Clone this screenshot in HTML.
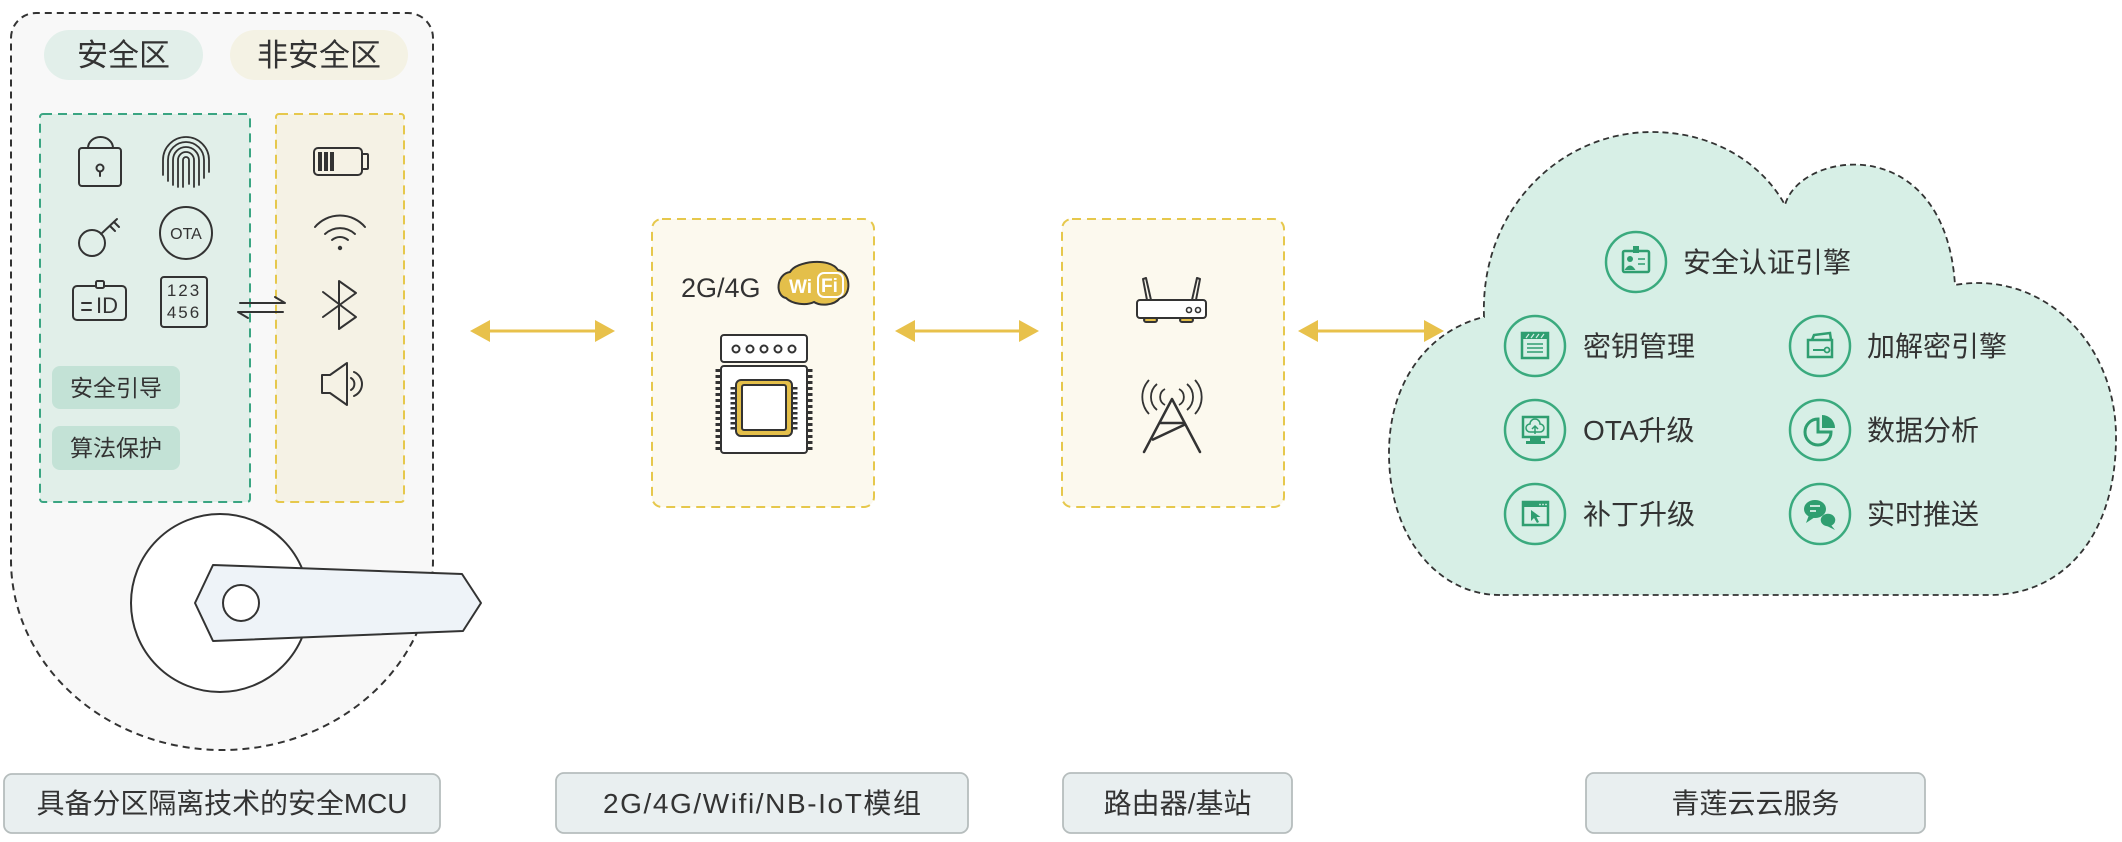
<!DOCTYPE html>
<html><head><meta charset="utf-8">
<style>
html,body{margin:0;padding:0;background:#fff;}
svg{display:block;}
text{font-family:"Liberation Sans","Noto Sans CJK SC",sans-serif;fill:#333;}
</style></head><body>
<svg width="2122" height="842" viewBox="0 0 2122 842" xmlns="http://www.w3.org/2000/svg">
<!-- ============ MCU outer shape ============ -->
<path d="M11,38 A25,25 0 0 1 36,13 L408,13 A25,25 0 0 1 433,38 L433,560 A211,190 0 0 1 11,560 Z" fill="#f8f8f8" stroke="#333" stroke-width="2" stroke-dasharray="7 5"/>

<!-- zone pills -->
<rect x="44" y="30" width="159" height="50" rx="25" fill="#e2efea"/>
<text x="123.5" y="66" font-size="31" text-anchor="middle">安全区</text>
<rect x="230" y="30" width="178" height="50" rx="25" fill="#f4f2e4"/>
<text x="319" y="66" font-size="31" text-anchor="middle">非安全区</text>

<!-- secure zone box -->
<rect x="40" y="114" width="210" height="388" rx="3" fill="#e1efe9" stroke="#3aa582" stroke-width="2" stroke-dasharray="9 6"/>
<!-- non secure box -->
<rect x="276" y="114" width="128" height="388" rx="3" fill="#f5f2e5" stroke="#e6c84c" stroke-width="2" stroke-dasharray="9 6"/>

<g fill="none" stroke="#333" stroke-width="2" stroke-linecap="round" stroke-linejoin="round">
  <!-- lock -->
  <rect x="79" y="148" width="42" height="38" rx="3"/>
  <path d="M88,148 A12.5,11 0 0 1 113,148"/>
  <circle cx="100" cy="168" r="3.5"/>
  <line x1="100" y1="171.5" x2="100" y2="176"/>
  <!-- fingerprint -->
  <path d="M163,175 V160 A23,23 0 0 1 209,160 V172" stroke-width="1.8"/>
  <path d="M168,181 V160 A18,18 0 0 1 204,160 V178" stroke-width="1.8"/>
  <path d="M173,185 V160 A13,13 0 0 1 199,160 V185" stroke-width="1.8"/>
  <path d="M178,187 V160 A8,8 0 0 1 194,160 V187" stroke-width="1.8"/>
  <path d="M183,187 V160 A3,3 0 0 1 189,160 V184" stroke-width="1.8"/>
  <!-- key -->
  <circle cx="92" cy="243" r="13"/>
  <line x1="101" y1="234" x2="117" y2="219"/>
  <line x1="110" y1="226" x2="115" y2="231"/>
  <line x1="114" y1="222" x2="119" y2="227"/>
  <!-- OTA -->
  <circle cx="186" cy="233" r="26"/>
  <!-- ID card -->
  <rect x="73" y="286" width="53" height="34" rx="4"/>
  <rect x="96" y="281" width="8" height="7" rx="1.5" fill="#e1efe9"/>
  <line x1="82" y1="303" x2="91" y2="303"/>
  <line x1="82" y1="310" x2="91" y2="310"/>
  <!-- 123 box -->
  <rect x="161" y="277" width="46" height="50" rx="3"/>
  <!-- exchange arrows -->
  <path d="M240,303 H285 L275,297"/>
  <path d="M283,312 H238 L248,318"/>
  <!-- battery -->
  <rect x="314" y="148" width="48" height="27" rx="4"/>
  <rect x="362" y="154" width="6" height="15" rx="1"/>
  <!-- wifi -->
  <path d="M315,227 A33,33 0 0 1 365,227"/>
  <path d="M325,234 A22,22 0 0 1 355,234"/>
  <path d="M332,240 A12,12 0 0 1 348,240"/>
  <!-- bluetooth -->
  <path d="M323,292 L356,317 L339,329 L339,281 L356,293 L323,317"/>
  <!-- speaker -->
  <path d="M322,375 H330 L347,363 V405 L330,393 H322 Z"/>
  <path d="M351,378 A7,7 0 0 1 351,390"/>
  <path d="M354,372 A13,13 0 0 1 354,396"/>
</g>
<text x="186" y="239" font-size="16" text-anchor="middle">OTA</text>
<text x="96" y="313" font-size="22">ID</text>
<text x="184" y="296" font-size="17" text-anchor="middle" letter-spacing="2">123</text>
<text x="184" y="318" font-size="17" text-anchor="middle" letter-spacing="2">456</text>
<g fill="#333">
  <rect x="318" y="152" width="4" height="19"/>
  <rect x="324" y="152" width="4" height="19"/>
  <rect x="330" y="152" width="4" height="19"/>
  <circle cx="340" cy="248" r="2.2"/>
</g>

<!-- small pills -->
<rect x="52" y="366" width="128" height="43" rx="8" fill="#c3e2d6"/>
<text x="116" y="396" font-size="23" text-anchor="middle">安全引导</text>
<rect x="52" y="426" width="128" height="44" rx="8" fill="#c3e2d6"/>
<text x="116" y="456" font-size="23" text-anchor="middle">算法保护</text>

<!-- lock rosette + handle -->
<circle cx="220" cy="603" r="89" fill="#fff" stroke="#333" stroke-width="2"/>
<polygon points="195,603 213,565 462,574 481,603 463,631 213,641" fill="#eef3f8" stroke="#333" stroke-width="2" stroke-linejoin="round"/>
<circle cx="241" cy="603" r="18" fill="#fff" stroke="#333" stroke-width="2"/>

<!-- ============ arrows ============ -->
<g stroke="#e8c14b" stroke-width="3">
  <line x1="488" y1="331" x2="597" y2="331"/>
  <line x1="913" y1="331" x2="1021" y2="331"/>
  <line x1="1316" y1="331" x2="1426" y2="331"/>
</g>
<g fill="#e8c14b">
  <polygon points="470,331 490,320 490,342"/>
  <polygon points="615,331 595,320 595,342"/>
  <polygon points="895,331 915,320 915,342"/>
  <polygon points="1039,331 1019,320 1019,342"/>
  <polygon points="1298,331 1318,320 1318,342"/>
  <polygon points="1444,331 1424,320 1424,342"/>
</g>

<!-- ============ module box ============ -->
<rect x="652" y="219" width="222" height="288" rx="10" fill="#fcf9ee" stroke="#e6c84c" stroke-width="2" stroke-dasharray="9 6"/>
<text x="681" y="297" font-size="27">2G/4G</text>
<!-- wifi logo -->
<path d="M786,298 C775,296 776,274 790,272 C796,261 830,257 838,270 C851,272 852,296 840,298 C834,306 820,306 814,302 C806,306 792,304 786,298 Z" fill="#e4bf4a" stroke="#333" stroke-width="2"/>
<text x="789" y="293" font-size="19" font-weight="bold" style="fill:#fff">Wi</text>
<rect x="818" y="273" width="25" height="24" rx="6" fill="#e4bf4a" stroke="#fff" stroke-width="2"/>
<text x="821" y="292" font-size="19" font-weight="bold" style="fill:#fff">Fi</text>
<!-- chip -->
<g stroke="#333" stroke-width="2">
  <rect x="721" y="335" width="86" height="27" rx="3" fill="#fff"/>
  <circle cx="736" cy="349" r="3.5" fill="none"/>
  <circle cx="750" cy="349" r="3.5" fill="none"/>
  <circle cx="764" cy="349" r="3.5" fill="none"/>
  <circle cx="778" cy="349" r="3.5" fill="none"/>
  <circle cx="792" cy="349" r="3.5" fill="none"/>
  <line x1="718" y1="369" x2="718" y2="451" stroke-width="5" stroke-dasharray="3 3"/>
  <line x1="810" y1="369" x2="810" y2="451" stroke-width="5" stroke-dasharray="3 3"/>
  <rect x="721" y="366" width="86" height="87" rx="3" fill="#fff"/>
  <line x1="733" y1="387" x2="733" y2="431" stroke-width="5" stroke-dasharray="2.5 2.5"/>
  <line x1="795" y1="387" x2="795" y2="431" stroke-width="5" stroke-dasharray="2.5 2.5"/>
  <rect x="736" y="380" width="56" height="56" rx="5" fill="#e4bf4a"/>
  <rect x="742" y="385" width="44" height="45" rx="2" fill="#fff"/>
</g>

<!-- ============ router box ============ -->
<rect x="1062" y="219" width="222" height="288" rx="10" fill="#fcf9ee" stroke="#e6c84c" stroke-width="2" stroke-dasharray="9 6"/>
<g stroke="#333" stroke-width="2" fill="none" stroke-linejoin="round">
  <path d="M1143,279 L1146,278 L1151,300 L1147,300 Z"/>
  <path d="M1200,279 L1197,278 L1192,300 L1196,300 Z"/>
  <rect x="1144" y="318" width="13" height="4" rx="2" fill="#e4bf4a"/>
  <rect x="1180" y="318" width="13" height="4" rx="2" fill="#e4bf4a"/>
  <rect x="1137" y="300" width="69" height="18" rx="3" fill="#fff"/>
  <circle cx="1189" cy="310" r="2.5" stroke-width="1.6"/>
  <circle cx="1198" cy="310" r="2.5" stroke-width="1.6"/>
  <!-- tower -->
  <path d="M1144,452 L1172,399 L1200,452" stroke-width="2.5" stroke-linecap="round"/>
  <line x1="1160" y1="423" x2="1185" y2="423" stroke-width="2.5"/>
  <line x1="1186" y1="424" x2="1152" y2="440" stroke-width="2.5"/>
  <path d="M1165,389 A9,9 0 0 0 1165,405" stroke-width="1.8"/>
  <path d="M1157,384 A17,17 0 0 0 1157,410" stroke-width="1.8"/>
  <path d="M1149,380 A25,25 0 0 0 1149,414" stroke-width="1.8"/>
  <path d="M1179,389 A9,9 0 0 1 1179,405" stroke-width="1.8"/>
  <path d="M1187,384 A17,17 0 0 1 1187,410" stroke-width="1.8"/>
  <path d="M1195,380 A25,25 0 0 1 1195,414" stroke-width="1.8"/>
</g>

<!-- ============ cloud ============ -->
<path d="M1500,595 C1440,595 1389,540 1389,453 C1389,380 1430,330 1484,317 C1480,210 1560,132 1652,132 C1710,132 1760,160 1785,205 C1800,150 1945,130 1955,285 C2040,270 2116,340 2116,437 C2116,540 2060,595 1990,595 Z" fill="#d7efe6" stroke="#333" stroke-width="1.8" stroke-dasharray="6 4"/>

<g fill="none" stroke="#3aaa7e" stroke-width="2.5">
  <circle cx="1636" cy="262" r="30"/>
  <circle cx="1535" cy="346" r="30"/>
  <circle cx="1820" cy="346" r="30"/>
  <circle cx="1535" cy="430" r="30"/>
  <circle cx="1820" cy="430" r="30"/>
  <circle cx="1535" cy="514" r="30"/>
  <circle cx="1820" cy="514" r="30"/>
</g>
<!-- cloud icons -->
<g fill="none" stroke="#2f9e70" stroke-width="2.5">
  <rect x="1623" y="251" width="26" height="21" rx="1.5"/>
  <line x1="1638" y1="259" x2="1645" y2="259" stroke-width="1.5"/>
  <line x1="1638" y1="264" x2="1645" y2="264" stroke-width="1.5"/>
  <rect x="1522" y="333" width="26" height="25"/>
  <line x1="1527" y1="344" x2="1543" y2="344" stroke-width="1.5"/>
  <line x1="1527" y1="348" x2="1543" y2="348" stroke-width="1.5"/>
  <line x1="1527" y1="352" x2="1543" y2="352" stroke-width="1.5"/>
  <path d="M1812,340 L1814,335 L1830,333 L1831,340"/>
  <rect x="1808" y="340" width="24" height="17"/>
  <line x1="1813" y1="350" x2="1824" y2="350" stroke-width="2"/>
  <circle cx="1827" cy="350" r="2.5" stroke-width="1.8"/>
  <rect x="1523" y="417" width="25" height="20"/>
  <path d="M1530,432 A4,4 0 0 1 1530,424 A5,5 0 0 1 1540,424 A4,4 0 0 1 1540,432 Z" stroke-width="1.5"/>
  <path d="M1535,434 V427 M1532,429 L1535,426 L1538,429" stroke-width="1.5"/>
  <path d="M1818,419 A13,13 0 1 0 1831,432 L1818,432 Z" stroke-width="3"/>
  <rect x="1523" y="502" width="25" height="23"/>
</g>
<g fill="#2f9e70">
  <rect x="1633" y="246" width="6" height="7"/>
  <circle cx="1630" cy="259" r="3"/>
  <path d="M1624.5,270 Q1630,261 1635.5,270 Z"/>
  <rect x="1522" y="333" width="26" height="6"/>
  <rect x="1530" y="437" width="11" height="4"/>
  <rect x="1526" y="441" width="19" height="3"/>
  <path d="M1822,428 V415 A13,13 0 0 1 1835,428 Z"/>
  <rect x="1523" y="502" width="25" height="5"/>
  <path d="M1531,510 L1531,521 L1534,518 L1537,523 L1539,522 L1536.5,517 L1540.5,517 Z"/>
  <ellipse cx="1828" cy="520" rx="8" ry="7" stroke="#d7efe6" stroke-width="1.5"/>
  <path d="M1831,525 L1835,530 L1827,526 Z"/>
  <ellipse cx="1815" cy="509" rx="11" ry="9"/>
  <path d="M1809,515 L1806,523 L1815,517 Z"/>
</g>
<g stroke="#d7efe6" stroke-width="1.2">
  <line x1="1526" y1="338" x2="1529" y2="334"/>
  <line x1="1531" y1="338" x2="1534" y2="334"/>
  <line x1="1536" y1="338" x2="1539" y2="334"/>
  <line x1="1541" y1="338" x2="1544" y2="334"/>
  <line x1="1810" y1="506" x2="1820" y2="506" stroke-width="1.8"/>
  <line x1="1810" y1="511" x2="1816" y2="511" stroke-width="1.8"/>
</g>
<g fill="#d7efe6">
  <circle cx="1540" cy="504.5" r="0.9"/>
  <circle cx="1543" cy="504.5" r="0.9"/>
  <circle cx="1546" cy="504.5" r="0.9"/>
</g>

<g font-size="28">
  <text x="1683" y="272">安全认证引擎</text>
  <text x="1583" y="356">密钥管理</text>
  <text x="1867" y="356">加解密引擎</text>
  <text x="1583" y="440">OTA升级</text>
  <text x="1867" y="440">数据分析</text>
  <text x="1583" y="524">补丁升级</text>
  <text x="1867" y="524">实时推送</text>
</g>

<!-- ============ bottom labels ============ -->
<g fill="#e9eff0" stroke="#b6bdbd" stroke-width="1.8">
  <rect x="4" y="774" width="436" height="59" rx="8"/>
  <rect x="556" y="773" width="412" height="60" rx="8"/>
  <rect x="1063" y="773" width="229" height="60" rx="8"/>
  <rect x="1586" y="773" width="339" height="60" rx="8"/>
</g>
<g font-size="28" text-anchor="middle">
  <text x="222" y="813" textLength="371" lengthAdjust="spacing">具备分区隔离技术的安全MCU</text>
  <text x="762" y="813" textLength="318" lengthAdjust="spacing">2G/4G/Wifi/NB-IoT模组</text>
  <text x="1177.5" y="813">路由器/基站</text>
  <text x="1755.5" y="813">青莲云云服务</text>
</g>
</svg>
</body></html>
